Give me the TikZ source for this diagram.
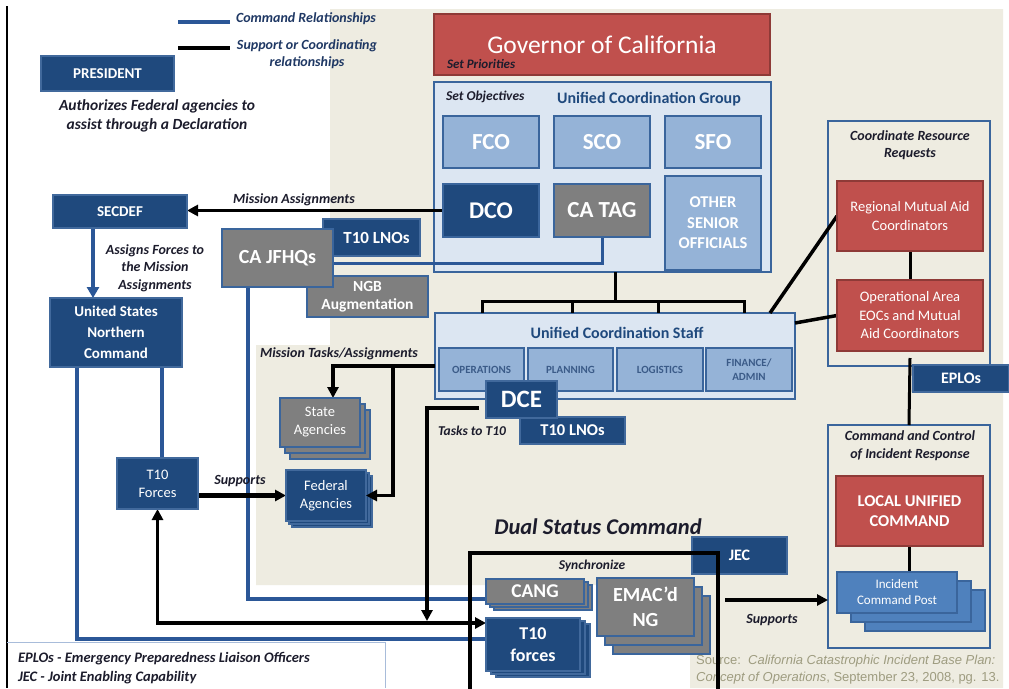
\documentclass[tikz,border=0pt]{standalone}
\usepackage{fontspec}
\setmainfont{Carlito}
\newfontfamily\srcfont{Liberation Sans}
\usetikzlibrary{arrows.meta}
\definecolor{navy}{HTML}{1F497D}
\definecolor{navyb}{HTML}{41699C}
\definecolor{cmdblue}{HTML}{2B5797}
\definecolor{lightpanel}{HTML}{DCE6F2}
\definecolor{midblue}{HTML}{95B3D7}
\definecolor{frameblue}{HTML}{3A659C}
\definecolor{redf}{HTML}{C0504D}
\definecolor{redb}{HTML}{8E3A37}
\definecolor{grayf}{HTML}{7F7F7F}
\definecolor{beige}{HTML}{EEECE1}
\definecolor{icpblue}{HTML}{4F81BD}
\definecolor{labelc}{HTML}{1C1C2C}
\definecolor{legc}{HTML}{1F3864}
\definecolor{subtext}{HTML}{3B5B88}
\definecolor{srcc}{HTML}{9E9C80}
\definecolor{legline}{HTML}{A8BCDA}
\pgfdeclarelayer{bg}
\pgfdeclarelayer{lines}
\pgfdeclarelayer{top}
\pgfsetlayers{bg,lines,main,top}
\begin{document}
\begin{tikzpicture}[x=1pt,y=-1pt,
  bx/.style={anchor=north west, inner sep=0pt, outer sep=0pt, align=center, text=white},
  navybox/.style={bx, fill=navy, draw=navyb, line width=1.5pt},
  graybox/.style={bx, fill=grayf, draw=frameblue, line width=2.5pt},
  redbox/.style={bx, fill=redf, draw=redb, line width=2pt},
  midbox/.style={bx, fill=midblue, draw=frameblue, line width=2.5pt},
  panel/.style={bx, fill=lightpanel, draw=frameblue, line width=2.5pt},
  beigepanel/.style={bx, fill=beige, draw=frameblue, line width=2.5pt},
  icpbox/.style={bx, fill=icpblue, draw=frameblue, line width=2pt},
  cmd/.style={draw=cmdblue, line width=4pt},
  sup/.style={draw=black, line width=3.5pt},
  arrowend/.style={-{Triangle[length=11pt,width=11pt]}},
  fs/.style 2 args={font=\fontsize{#1}{#2}\selectfont},
  bfs/.style 2 args={font=\bfseries\fontsize{#1}{#2}\selectfont},
  lbl/.style 2 args={inner sep=0pt, outer sep=0pt, align=center, text=labelc, font=\bfseries\itshape\fontsize{#1}{#2}\selectfont}
]
\useasboundingbox (0,0) rectangle (1009,688);

% ---------- background ----------
\begin{pgfonlayer}{bg}
\fill[white] (0,0) rectangle (1009,688);
\fill[beige] (330,9) -- (1003,9) -- (1003,688) -- (690,688) -- (690,585) -- (256,585) -- (256,345) -- (330,345) -- cycle;
\draw[black, line width=1.2pt] (7,6) -- (7,688);
\draw[legline, line width=1pt] (7,642) -- (385,642) -- (385,688);
\node[redbox, fs={25.5}{30}, minimum width=336pt, minimum height=61pt] (gov) at (434,14) {Governor of California};
\node[panel, minimum width=337pt, minimum height=190pt] (ucg) at (434,82) {};
\node[panel, minimum width=360pt, minimum height=86pt] (ucs) at (435,313) {};
\node[beigepanel, minimum width=162pt, minimum height=245pt] (crr) at (828,121) {};
\node[beigepanel, minimum width=162pt, minimum height=223pt] (cc) at (828,425) {};
\end{pgfonlayer}

% ---------- boxes ----------
\node[navybox, bfs={15}{18}, minimum width=133pt, minimum height=35pt] (pres) at (41,56) {PRESIDENT};
\node[lbl={13}{16}, anchor=west] (setpri) at (447,64) {Set Priorities};
\node[lbl={13.5}{16}, anchor=west] (setobj) at (446,97) {Set Objectives};
\node[bfs={16}{19}, text=navy, inner sep=0pt] (ucgt) at (649,99) {Unified Coordination Group};

\node[midbox, bfs={23}{26}, minimum width=96pt, minimum height=52pt] (fco) at (443,116) {FCO};
\node[midbox, bfs={23}{26}, minimum width=96pt, minimum height=52pt] (sco) at (554,116) {SCO};
\node[midbox, bfs={23}{26}, minimum width=96pt, minimum height=52pt] (sfo) at (665,116) {SFO};
\node[navybox, draw=frameblue, line width=2.5pt, bfs={24}{27}, minimum width=96pt, minimum height=53pt] (dco) at (443,184) {DCO};
\node[graybox, bfs={23}{26}, minimum width=96pt, minimum height=53pt] (catag) at (554,184) {CA TAG};
\node[midbox, bfs={16.5}{20.5}, minimum width=96pt, minimum height=94pt] (oso) at (665,176) {OTHER\\SENIOR\\OFFICIALS};

\node[navybox, bfs={15}{18}, minimum width=134pt, minimum height=33pt] (secdef) at (53,195) {SECDEF};
\node[navybox, bfs={15}{21}, minimum width=132pt, minimum height=69pt] (usnc) at (50,298) {United States\\Northern\\Command};

\node[navybox, bfs={17}{20}, minimum width=97pt, minimum height=37pt] (t10lnoa) at (323,219) {\hspace*{10pt}T10 LNOs};
\node[graybox, bfs={15.5}{18}, minimum width=121pt, minimum height=41pt] (ngb) at (307,276) {NGB\\Augmentation};
\node[graybox, bfs={20}{24}, minimum width=111pt, minimum height=58pt] (cajfhq) at (222,229) {CA JFHQs};

\node[bfs={16}{19}, text=navy, inner sep=0pt] (ucst) at (617,333) {Unified Coordination Staff};
\node[midbox, line width=2pt, text=subtext, bfs={11}{13.5}, minimum width=85pt, minimum height=43pt] (ops) at (439,348) {OPERATIONS};
\node[midbox, line width=2pt, text=subtext, bfs={11}{13.5}, minimum width=85pt, minimum height=43pt] (plan) at (528,348) {PLANNING};
\node[midbox, line width=2pt, text=subtext, bfs={11}{13.5}, minimum width=86pt, minimum height=43pt] (logi) at (617,348) {LOGISTICS};
\node[midbox, line width=2pt, text=subtext, bfs={11}{13.5}, minimum width=86pt, minimum height=43pt] (fin) at (706,348) {FINANCE/\\ADMIN};

\node[navybox, bfs={16.5}{20}, minimum width=105pt, minimum height=27pt] (t10lnob) at (520,417) {T10 LNOs};
\node[navybox, bfs={25}{28}, minimum width=71pt, minimum height=37pt] (dce) at (486,381) {DCE};

\node[graybox, line width=2pt, minimum width=80pt, minimum height=49pt] (statec) at (290,410) {};
\node[graybox, line width=2pt, minimum width=80pt, minimum height=49pt] (stateb) at (285,404) {};
\node[graybox, line width=2pt, fs={14.5}{18}, minimum width=80pt, minimum height=49pt] (state) at (280,398) {State\\Agencies};

\node[navybox, minimum width=80pt, minimum height=51pt] (fedc) at (292,476) {};
\node[navybox, minimum width=80pt, minimum height=51pt] (fedb) at (289,473) {};
\node[navybox, fs={14.5}{18}, minimum width=80pt, minimum height=51pt] (fed) at (286,470) {Federal\\Agencies};

\node[navybox, fs={14.5}{18}, minimum width=81pt, minimum height=51pt] (t10f) at (117,458) {T10\\Forces};

\node[navybox, bfs={16}{19}, minimum width=95pt, minimum height=37pt] (jec) at (692,537) {JEC};

\node[graybox, line width=2pt, minimum width=98pt, minimum height=25pt] (cangc) at (494,585) {};
\node[graybox, line width=2pt, minimum width=98pt, minimum height=25pt] (cangb) at (490,582) {};
\node[graybox, line width=2pt, bfs={19.5}{22}, minimum width=98pt, minimum height=25pt] (cang) at (486,579) {CANG};

\node[graybox, line width=2pt, minimum width=97pt, minimum height=58pt] (emacc) at (613,596) {};
\node[graybox, line width=2pt, minimum width=97pt, minimum height=58pt] (emacb) at (605,587) {};
\node[graybox, line width=2pt, bfs={20}{25}, minimum width=97pt, minimum height=58pt] (emac) at (597,578) {EMAC’d\\NG};

\node[navybox, minimum width=94pt, minimum height=53pt] (t10fbc) at (496,624) {};
\node[navybox, minimum width=94pt, minimum height=53pt] (t10fbb) at (491,621) {};
\node[navybox, bfs={18}{22}, minimum width=94pt, minimum height=53pt] (t10fb) at (486,618) {T10\\forces};

\node[lbl={14}{17}] (crrt) at (910,145) {Coordinate Resource\\Requests};
\node[redbox, fs={14.5}{19}, minimum width=146pt, minimum height=70pt] (rmac) at (837,181) {Regional Mutual Aid\\Coordinators};
\node[redbox, fs={14.5}{18.5}, minimum width=146pt, minimum height=71pt] (opa) at (837,280) {Operational Area\\EOCs and Mutual\\Aid Coordinators};
\node[navybox, bfs={16}{19}, minimum width=96pt, minimum height=27pt] (eplos) at (913,365) {EPLOs};

\node[lbl={14}{18}] (cct) at (910,446) {Command and Control\\of Incident Response};
\node[redbox, bfs={16.5}{20}, minimum width=147pt, minimum height=70pt] (luc) at (836,476) {LOCAL UNIFIED\\COMMAND};
\node[icpbox, minimum width=120pt, minimum height=41pt] (icpc) at (865,590) {};
\node[icpbox, minimum width=120pt, minimum height=41pt] (icpb) at (851,581) {};
\node[icpbox, fs={13}{16}, minimum width=120pt, minimum height=41pt] (icp) at (837,572) {Incident\\Command Post};

% ---------- labels ----------
\node[lbl={14}{17}, text=legc, anchor=west] (lega) at (236,19) {Command Relationships};
\node[lbl={14}{16.5}, text=legc] (legb) at (307,54) {Support or Coordinating\\relationships};
\node[lbl={15.5}{19}] (auth) at (157,116) {Authorizes Federal agencies to\\assist through a Declaration};
\node[lbl={14}{17}] (missa) at (294,200) {Mission Assignments};
\node[lbl={14}{17.5}] (assign) at (155,268) {Assigns Forces to\\the Mission\\Assignments};
\node[lbl={14}{17}] (mtasks) at (339,354) {Mission Tasks/Assignments};
\node[lbl={14}{17}] (supl) at (240,481) {Supports};
\node[lbl={13.5}{16}] (tasks) at (472,431) {Tasks to T10};
\node[lbl={22.5}{26}] (dsc) at (598,527) {Dual Status Command};
\node[lbl={13.5}{16}] (sync) at (592,566) {Synchronize};
\node[lbl={14}{17}] (supr) at (772,620) {Supports};
\node[lbl={14.5}{18}, anchor=base west] (legep) at (18,662) {EPLOs - Emergency Preparedness Liaison Officers};
\node[lbl={14.5}{18}, anchor=base west] (legjec) at (18,681) {JEC - Joint Enabling Capability};
\node[inner sep=0pt, anchor=base west, text=srcc, font=\srcfont\fontsize{13}{16}\selectfont] (srca) at (696,664) {Source:\ \ \textit{California Catastrophic Incident Base Plan:}};
\node[inner sep=0pt, anchor=base west, text=srcc, font=\srcfont\fontsize{13}{16}\selectfont] (srcb) at (696,681) {\textit{Concept of Operations}, September 23, 2008, pg. 13.};

% ---------- connectors ----------
\begin{pgfonlayer}{lines}
\draw[cmd] (178,22) -- (230,22);
\draw[black, line width=4.5pt] (178,48) -- (230,48);
\draw[sup, line width=3pt, arrowend] (dco.west) -- (dco.west -| secdef.east);
\draw[cmd, -{Triangle[length=11pt,width=12pt]}] ([xshift=-27pt]secdef.south) -- ([xshift=-27pt]secdef.south |- usnc.north);
\draw[cmd] ([xshift=4.5pt]t10f.north |- usnc.south) -- ([xshift=4.5pt]t10f.north);
\draw[cmd] ([xshift=-39pt]usnc.south) |- ([yshift=-21pt]t10fb.north west);
\draw[cmd, line width=3pt] (catag.south) |- ([yshift=-5pt]cajfhq.east);
\draw[cmd] ([xshift=-29.5pt]cajfhq.south) |- ([yshift=-20pt]cang.north west);
\draw[sup, line width=5pt, arrowend] (t10f.east |- fed.west) -- (fed.west);
\draw[sup, arrowend] ([yshift=-10pt]ucs.west) -| ([xshift=13pt]state.north);
\coordinate (tk) at (427,621);
\draw[sup, arrowend] ([shift={(-7pt,-8.5pt)}]dce.west) -| (tk);
\draw[sup, {Triangle[length=11pt,width=11pt]}-{Triangle[length=11pt,width=11pt]}] (t10f.south) |- ([yshift=-5pt]t10fb.north west);
\coordinate (ba) at (482,301);
\coordinate (bb) at (572,301);
\coordinate (bc) at (658,301);
\coordinate (bd) at (744,301);
\coordinate (bs) at (615,301);
\draw[sup, line width=3pt] ([xshift=12.5pt]ucg.south) -- (bs);
\draw[sup, line width=3pt] (ba |- ucs.north) -- (ba) -- (bd) -- (bd |- ucs.north);
\draw[sup, line width=3pt] (bb) -- (bb |- ucs.north);
\draw[sup, line width=3pt] (bc) -- (bc |- ucs.north);
\draw[sup] ([xshift=-25pt]ucs.north east) -- (rmac.west);
\draw[sup] ([yshift=-10pt]ucs.north east) -- (opa.west);
\draw[sup, line width=3pt] (rmac.south) -- (opa.north);
\draw[sup, line width=3pt] ([yshift=-7pt]opa.south) -- (cc.north);
\draw[sup, line width=3pt] (luc.south) -- (luc.south |- icp.north);
\coordinate (sups) at (725,600);
\draw[sup, arrowend] (sups) -- (sups -| cc.west);
\end{pgfonlayer}

\begin{pgfonlayer}{top}
\coordinate (mtb) at (393,366);
\draw[sup, arrowend] (mtb) |- (fed.east);
\coordinate (dsl) at (470,553);
\coordinate (dsr) at (718,553);
\coordinate (dslb) at (470,690);
\coordinate (dsrb) at (718,690);
\draw[sup] (dslb) -- (dsl) -- (dsr) -- (dsrb);
\end{pgfonlayer}
\end{tikzpicture}
\end{document}
